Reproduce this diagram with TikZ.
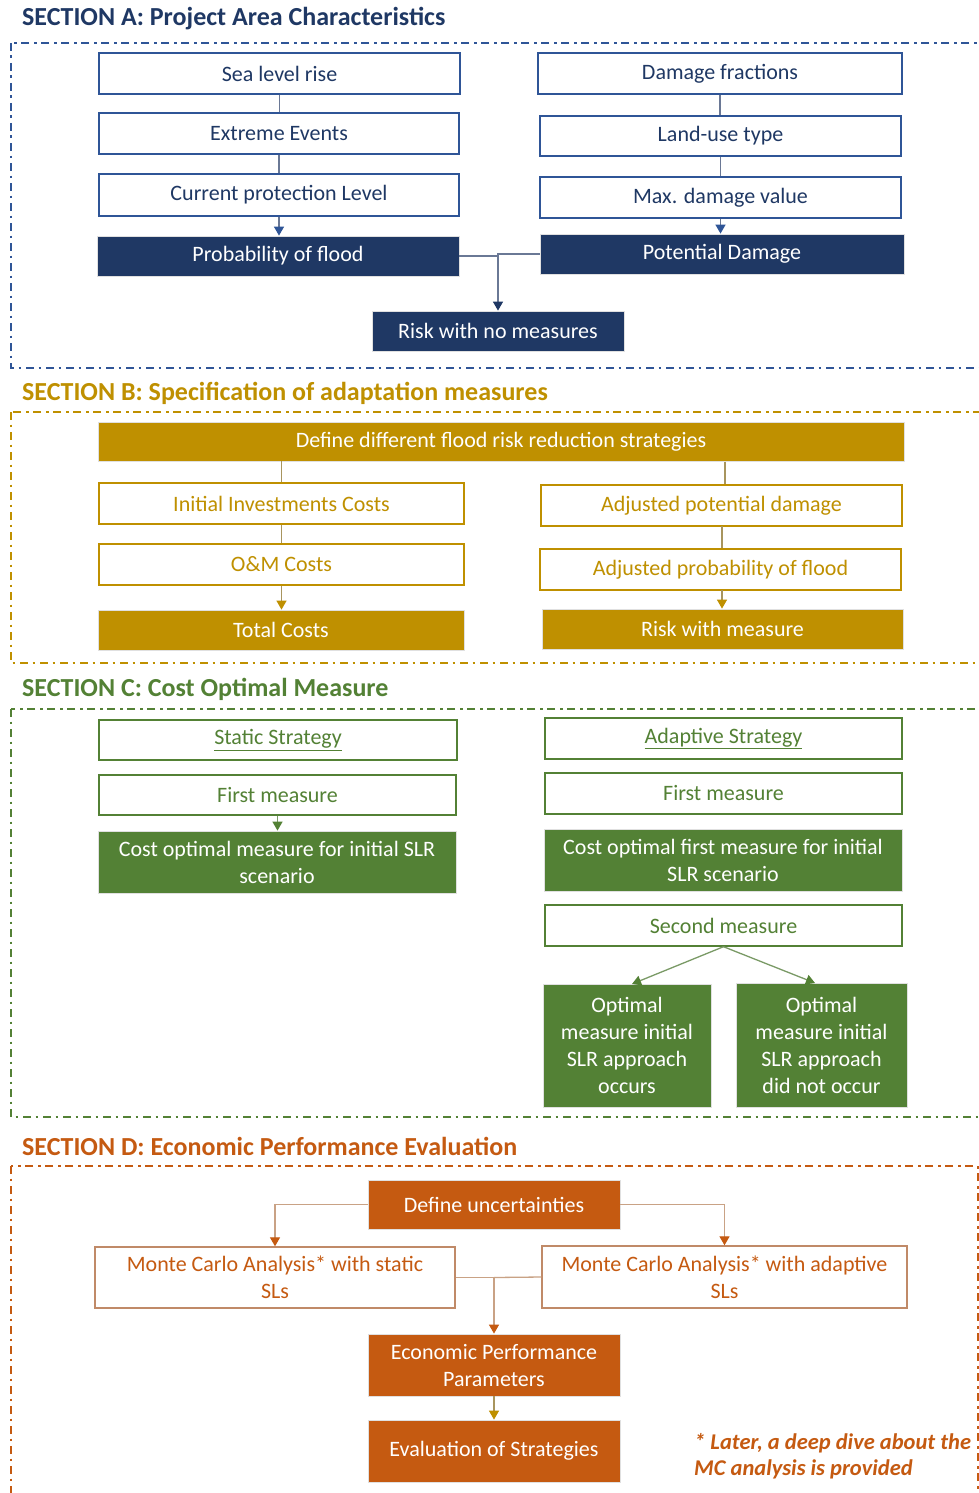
\documentclass[tikz,border=0pt]{standalone}
\usepackage{fontspec}
\setmainfont{Carlito}
\usetikzlibrary{arrows.meta}

\definecolor{navy}{HTML}{1F3864}
\definecolor{navyline}{HTML}{2F5597}
\definecolor{navyconn}{HTML}{6A7895}
\definecolor{gold}{HTML}{BF9000}
\definecolor{goldconn}{HTML}{A8955E}
\definecolor{leaf}{HTML}{538135}
\definecolor{leafconn}{HTML}{7A9A66}
\definecolor{rust}{HTML}{C55A11}
\definecolor{rustconn}{HTML}{C9A285}
\definecolor{rustedge}{HTML}{C08A68}

\newcommand\bxfont{\fontsize{22}{27}\selectfont}
\newcommand\ttlfont{\fontsize{26}{30}\selectfont\bfseries}

\tikzset{
  frame/.style={line width=1.5pt, dash pattern=on 8pt off 4.5pt on 2.5pt off 5pt},
  title/.style={anchor=west, inner sep=0pt, font=\ttlfont},
  outbox/.style={draw=#1, line width=1.4pt, fill=white, inner sep=1pt,
    align=center, font=\bxfont},
  solidbox/.style={draw=black!12, line width=0.8pt, fill=#1, text=white,
    inner sep=1pt, align=center, font=\bxfont},
  link/.style={line width=1.3pt, draw=#1},
  tip/.style={-{Triangle[width=10pt,length=9pt,color=#1,fill=#1]}},
}

\begin{document}
\begin{tikzpicture}[x=1pt,y=-1pt]
\clip (0,0) rectangle (979,1493);
\fill[white] (0,0) rectangle (979,1493);

% ---------- Section frames ----------
\draw[frame, navyline] (11,43) rectangle (995,368);
\draw[frame, gold] (11,412) rectangle (995,663);
\draw[frame, leaf] (11,709) rectangle (995,1117);
\draw[frame, rust] (11,1166) rectangle (978,1520);

% ---------- Section titles ----------
\node[title, text=navy] (tA) at (22,19) {SECTION A: Project Area Characteristics};
\node[title, text=gold] (tB) at (22,393) {SECTION B: Specification of adaptation measures};
\node[title, text=leaf] (tC) at (22,689) {SECTION C: Cost Optimal Measure};
\node[title, text=rust] (tD) at (22,1146) {SECTION D: Economic Performance Evaluation};

% ---------- Section A ----------
\begin{scope}[every node/.append style={text=navy}]
\node[outbox=navyline, minimum width=361pt, minimum height=41pt] (sea) at (279.5,73.5) {Sea level rise};
\node[outbox=navyline, minimum width=360pt, minimum height=41pt] (ext) at (279,133.5) {Extreme Events};
\node[outbox=navyline, minimum width=360pt, minimum height=42pt] (cur) at (279,195) {Current protection Level};
\node[outbox=navyline, minimum width=364pt, minimum height=41pt] (dam) at (720,73.5) {Damage fractions};
\node[outbox=navyline, minimum width=361pt, minimum height=40pt] (land) at (720.5,136) {Land-use type};
\node[outbox=navyline, minimum width=361pt, minimum height=41pt] (maxd) at (720.5,197.5) {Max. damage value};
\end{scope}
\node[solidbox=navy, minimum width=362pt, minimum height=40pt] (prob) at (278,256) {Probability of flood};
\node[solidbox=navy, minimum width=364pt, minimum height=40pt] (pot) at (722,254) {Potential Damage};
\node[solidbox=navy, minimum width=252pt, minimum height=40pt] (risk) at (498,331) {Risk with no measures};

\draw[link=navyconn] (sea.south) -- (sea.south |- ext.north);
\draw[link=navyconn] (ext.south) -- (ext.south |- cur.north);
\draw[link=navyconn, tip=navyline] (cur.south) -- (cur.south |- prob.north);
\draw[link=navyconn] (dam.south) -- (dam.south |- land.north);
\draw[link=navyconn] (land.south) -- (land.south |- maxd.north);
\draw[link=navyconn, tip=navyline] (maxd.south) -- (maxd.south |- pot.north);
\coordinate (jA) at (risk.north |- prob.east);
\draw[link=navyconn, tip=navy] (prob.east) -| (risk.north);
\draw[link=navyconn] (pot.west) -| (jA);

% ---------- Section B ----------
\node[solidbox=gold, minimum width=806pt, minimum height=39pt] (def) at (501,441.5) {Define different flood risk reduction strategies};
\begin{scope}[every node/.append style={text=gold}]
\node[outbox=gold, minimum width=365pt, minimum height=41pt] (inv) at (281.5,503.5) {Initial Investments Costs};
\node[outbox=gold, minimum width=365pt, minimum height=41pt] (om) at (281.5,564.5) {O\&M Costs};
\node[outbox=gold, minimum width=361pt, minimum height=41pt] (apd) at (721.5,505.5) {Adjusted potential damage};
\node[outbox=gold, minimum width=361pt, minimum height=41pt] (apf) at (720.5,569.5) {Adjusted probability of flood};
\end{scope}
\node[solidbox=gold, minimum width=366pt, minimum height=40pt] (tot) at (281,630) {Total Costs};
\node[solidbox=gold, minimum width=361pt, minimum height=40pt] (rwm) at (722.5,629) {Risk with measure};

\draw[link=goldconn] (inv.north) -- (inv.north |- def.south);
\draw[link=goldconn] (725,461.5) coordinate (dB) -- (dB |- apd.north);
\draw[link=goldconn] (inv.south) -- (inv.south |- om.north);
\draw[link=goldconn, tip=gold] (om.south) -- (om.south |- tot.north);
\draw[link=goldconn] (722,526) coordinate (eB) -- (eB |- apf.north);
\draw[link=goldconn, tip=gold] (722,590) coordinate (fB) -- (fB |- rwm.north);

% ---------- Section C ----------
\begin{scope}[every node/.append style={text=leaf}]
\node[outbox=leaf, minimum width=358pt, minimum height=40pt] (sst) at (278,740) {\underline{Static Strategy}};
\node[outbox=leaf, minimum width=357pt, minimum height=40pt] (sfm) at (277.5,795) {First measure};
\node[outbox=leaf, minimum width=357pt, minimum height=41pt] (ast) at (723.5,738.5) {\underline{Adaptive Strategy}};
\node[outbox=leaf, minimum width=357pt, minimum height=41pt] (afm) at (723.5,793.5) {First measure};
\node[outbox=leaf, minimum width=357pt, minimum height=41pt] (asm) at (723.5,925.5) {Second measure};
\end{scope}
\node[solidbox=leaf, minimum width=358pt, minimum height=62pt] (sco) at (277,862) {Cost optimal measure for initial SLR\\scenario};
\node[solidbox=leaf, minimum width=358pt, minimum height=62pt] (aco) at (723,860) {Cost optimal first measure for initial\\SLR scenario};
\node[solidbox=leaf, minimum width=168pt, minimum height=123pt] (oc1) at (627,1045.5) {Optimal\\measure initial\\SLR approach\\occurs};
\node[solidbox=leaf, minimum width=171pt, minimum height=124pt] (oc2) at (821.5,1045) {Optimal\\measure initial\\SLR approach\\did not occur};

\draw[link=leafconn, tip=leaf] (sfm.south) -- (sfm.south |- sco.north);
\draw[link=leafconn, tip=leaf] (asm.south) -- (632,984);
\draw[link=leafconn, tip=leaf] (asm.south) -- (815,983);

% ---------- Section D ----------
\node[solidbox=rust, minimum width=252pt, minimum height=49pt] (du) at (494,1204.5) {Define uncertainties};
\begin{scope}[every node/.append style={text=rust}]
\node[outbox=rustedge, minimum width=360pt, minimum height=61pt] (mcs) at (275,1277.5) {Monte Carlo Analysis* with static\\SLs};
\node[outbox=rustedge, minimum width=365pt, minimum height=62pt] (mca) at (724.5,1277) {Monte Carlo Analysis* with adaptive\\SLs};
\end{scope}
\node[solidbox=rust, minimum width=252pt, minimum height=62pt] (epp) at (494,1365) {Economic Performance\\Parameters};
\node[solidbox=rust, minimum width=252pt, minimum height=62pt] (evs) at (494,1451) {Evaluation of Strategies};

\draw[link=rustconn, tip=rust] (du.west) -| (mcs.north);
\draw[link=rustconn, tip=rust] (du.east) -| (mca.north);
\coordinate (jD) at (epp.north |- mcs.east);
\draw[link=rustconn, tip=rust] (mcs.east) -| (epp.north);
\draw[link=rustconn] (mca.west) -- (jD);
\draw[link=goldconn, tip=gold] (epp.south) -- (evs.north);

\node[anchor=north west, inner sep=0pt, align=left, text=rust,
  font=\fontsize{22.5}{26}\selectfont\bfseries\itshape] (note) at (694,1433)
  {* Later, a deep dive about the\\MC analysis is provided};
\end{tikzpicture}
\end{document}
